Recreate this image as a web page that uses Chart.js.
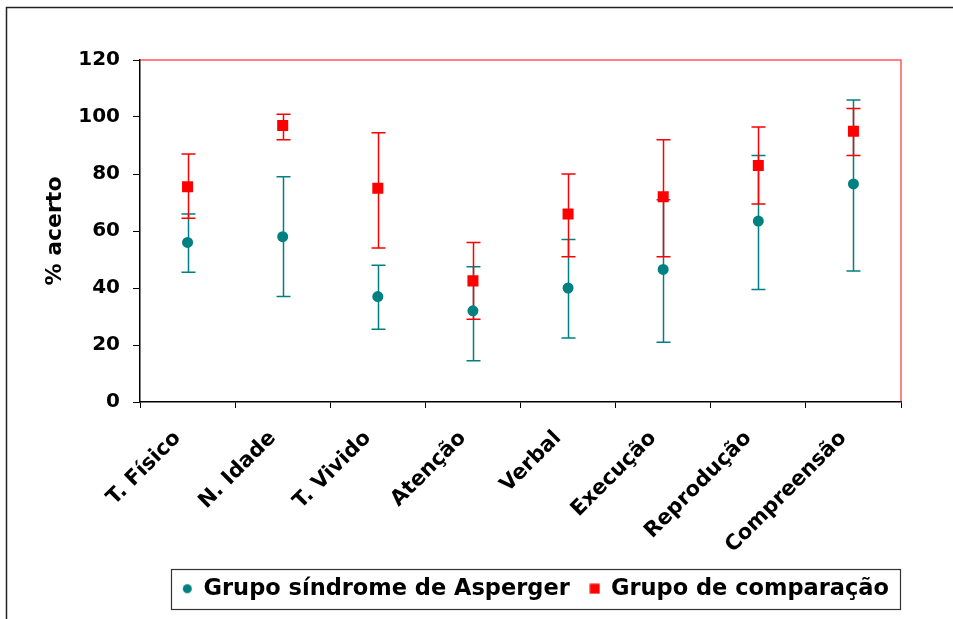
<!DOCTYPE html>
<html>
<head>
<meta charset="utf-8">
<script src="https://cdn.jsdelivr.net/npm/chart.js@4/dist/chart.umd.min.js"></script>
<style>
  html, body { margin: 0; padding: 0; background: #fff; }
  #wrap { width: 953px; height: 619px; }
</style>
</head>
<body>
<div id="wrap"><canvas id="grafico" width="953" height="619"></canvas></div>
<script>
    "use strict";

    // categorias e valores
    var categorias = ["T. Físico", "N. Idade", "T. Vivido", "Atenção", "Verbal", "Execução", "Reprodução", "Compreensão"];

    var asperger_media = [56, 58, 37, 32, 40, 46.5, 63.5, 76.5];
    var asperger_max   = [66, 79, 48, 47.5, 57, 71, 86.5, 106];
    var asperger_min   = [45.5, 37, 25.5, 14.5, 22.5, 21, 39.5, 46];

    var comparacao_media = [75.5, 97, 75, 42.5, 66, 72, 83, 95];
    var comparacao_max   = [87, 101, 94.5, 56, 80, 92, 96.5, 103];
    var comparacao_min   = [64.5, 92, 54, 29, 51, 51, 69.5, 86.5];

    var yTicks = [0, 20, 40, 60, 80, 100, 120];

    var fonte = "'DejaVu Sans', Verdana, sans-serif";
    var TEAL = "#008080";
    var RED = "#FF0000";

    // pequenos marcadores para a legenda
    function marcador(tipo, cor) {
        var c = document.createElement("canvas");
        c.width = 11; c.height = 11;
        var g = c.getContext("2d");
        g.fillStyle = cor;
        if (tipo === "circle") {
            g.beginPath();
            g.arc(5.5, 5.5, 4.5, 0, Math.PI * 2);
            g.fill();
        } else {
            g.fillRect(0.5, 0.5, 10, 10);
        }
        return c;
    }
    var legCirculo = marcador("circle", TEAL);
    var legQuadrado = marcador("rect", RED);

    // Moldura externa, fundo e caixa da legenda
    var moldura = {
        id: "moldura",
        afterLayout: function (chart) {
            // empurra a legenda um pouco para a direita
            chart.legend.left += 8;
            chart.legend.right += 8;
        },
        beforeDraw: function (chart) {
            var ctx = chart.ctx;
            ctx.save();
            ctx.fillStyle = "#fff";
            ctx.fillRect(0, 0, chart.width, chart.height);
            ctx.strokeStyle = "#222";
            ctx.lineWidth = 1.5;
            ctx.strokeRect(6.5, 7.5, chart.width + 20, chart.height + 20);
            ctx.restore();
        },
        afterDraw: function (chart) {
            var ctx = chart.ctx;
            var a = chart.chartArea;
            ctx.save();
            // borda vermelha da area do grafico
            ctx.strokeStyle = "rgba(255,0,0,0.65)";
            ctx.lineWidth = 1.5;
            ctx.beginPath();
            ctx.moveTo(a.left, a.top);
            ctx.lineTo(a.right, a.top);
            ctx.lineTo(a.right, a.bottom);
            ctx.stroke();
            // caixa da legenda
            var caixas = chart.legend.legendHitBoxes;
            if (caixas && caixas.length) {
                var l = caixas[0].left, r = caixas[caixas.length - 1].left + caixas[caixas.length - 1].width;
                var t = caixas[0].top, h = caixas[0].height;
                ctx.strokeStyle = "#333";
                ctx.lineWidth = 1.2;
                ctx.strokeRect(Math.round(l - 11) + 0.5, Math.round(t + h / 2 - 20) + 0.5, Math.round(r - l + 22), 40);
            }
            ctx.restore();
        }
    };

    // Barras de erro
    var barrasErro = {
        id: "barrasErro",
        beforeDatasetsDraw: function (chart) {
            var ctx = chart.ctx;
            var y = chart.scales.y;
            ctx.save();
            chart.data.datasets.forEach(function (ds, di) {
                var meta = chart.getDatasetMeta(di);
                ctx.strokeStyle = ds.borderColor;
                ctx.lineWidth = 1.5;
                meta.data.forEach(function (pt, i) {
                    var yt = y.getPixelForValue(ds.erroMax[i]);
                    var yb = y.getPixelForValue(ds.erroMin[i]);
                    var x = Math.round(pt.x) + 0.5;
                    ctx.beginPath();
                    ctx.moveTo(x, yt); ctx.lineTo(x, yb);
                    ctx.moveTo(x - 7, yt); ctx.lineTo(x + 7, yt);
                    ctx.moveTo(x - 7, yb); ctx.lineTo(x + 7, yb);
                    ctx.stroke();
                });
            });
            ctx.restore();
        }
    };

    var ctx1 = document.getElementById("grafico").getContext("2d");
    var myChart1 = new Chart(ctx1, {
        type: "line",
        data: {
            labels: categorias,
            datasets: [
                {
                    label: "Grupo síndrome de Asperger",
                    data: asperger_media,
                    erroMax: asperger_max,
                    erroMin: asperger_min,
                    showLine: false,
                    pointStyle: "circle",
                    pointRadius: 5.5,
                    backgroundColor: TEAL,
                    borderColor: TEAL,
                    borderWidth: 0,
                },
                {
                    label: "Grupo de comparação",
                    data: comparacao_media,
                    erroMax: comparacao_max,
                    erroMin: comparacao_min,
                    showLine: false,
                    pointStyle: "rect",
                    pointRadius: 7.8,
                    backgroundColor: RED,
                    borderColor: RED,
                    borderWidth: 0,
                },
            ],
        },
        options: {
            responsive: false,
            animation: false,
            layout: { padding: { left: 0, top: 60, right: 52, bottom: 9 } },
            plugins: {
                tooltip: { enabled: false },
                legend: {
                    position: "bottom",
                    align: "end",
                    labels: {
                        usePointStyle: true,
                        boxWidth: 10,
                        boxHeight: 10,
                        padding: 20,
                        color: "#000",
                        font: { family: fonte, size: 22.5, weight: "bold" },
                        generateLabels: function (chart) {
                            var itens = Chart.defaults.plugins.legend.labels.generateLabels(chart);
                            itens[0].pointStyle = legCirculo;
                            itens[1].pointStyle = legQuadrado;
                            return itens;
                        },
                    },
                },
            },
            scales: {
                x: {
                    offset: true,
                    afterFit: function (scale) { scale.height = 155.5; },
                    grid: { offset: true, drawOnChartArea: false, tickLength: 6, color: "#000" },
                    border: { color: "#000", width: 1.5 },
                    ticks: {
                        color: "#000",
                        maxRotation: 45,
                        minRotation: 45,
                        padding: 18,
                        labelOffset: -10,
                        font: { family: fonte, size: 21, weight: "bold" },
                    },
                },
                y: {
                    min: 0,
                    max: 120,
                    afterFit: function (scale) { scale.width = 140; },
                    afterBuildTicks: function (scale) {
                        scale.ticks = yTicks.map(function (v) { return { value: v }; });
                    },
                    grid: { drawOnChartArea: false, tickLength: 7, color: "#000" },
                    border: { color: "#000", width: 1.5 },
                    title: {
                        display: true,
                        text: "% acerto",
                        color: "#000",
                        padding: { top: 42, bottom: 0 },
                        font: { family: fonte, size: 22, weight: "bold" },
                    },
                    ticks: {
                        color: "#000",
                        padding: 13,
                        font: { family: fonte, size: 20, weight: "bold" },
                    },
                },
            },
        },
        plugins: [moldura, barrasErro],
    });
</script>
</body>
</html>
